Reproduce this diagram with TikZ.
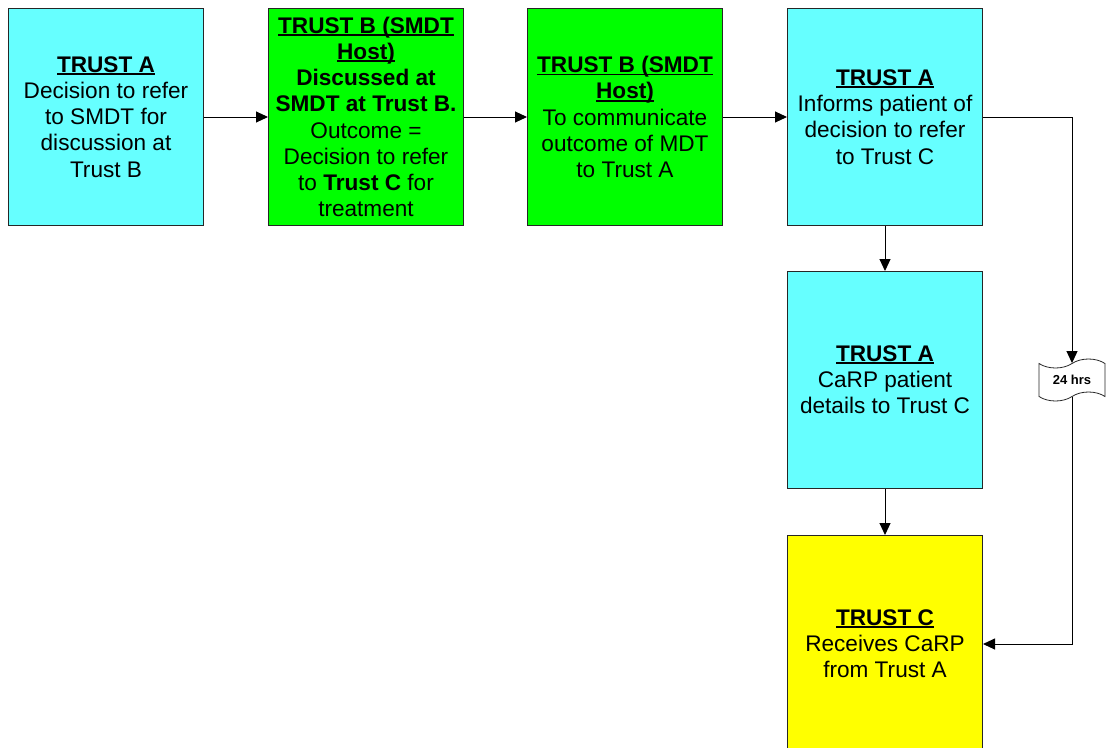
\documentclass[tikz,border=0pt]{standalone}
\usepackage{fontspec}
\setmainfont{Liberation Sans}
\usetikzlibrary{arrows.meta,shapes.symbols}
\definecolor{trustA}{HTML}{66FFFF}
\definecolor{trustB}{HTML}{00FF00}
\definecolor{trustC}{HTML}{FFFF00}
\definecolor{edge}{HTML}{262626}
% bold heading with a heavy rule just under the baseline
\newlength{\hdwidth}
\newcommand{\hd}[1]{\settowidth{\hdwidth}{\textbf{#1}}\textbf{#1}\llap{\rule[-2.8pt]{\hdwidth}{1.9pt}}}
\begin{document}
\begin{tikzpicture}[x=1pt,y=-1pt,
  box/.style={draw=edge, line width=1pt, minimum width=195pt, minimum height=217pt,
    inner sep=0pt, align=center, anchor=north west,
    font=\fontsize{22.6}{26.2}\selectfont},
  flow/.style={draw=black, line width=1pt, -{Triangle[length=12pt,width=11pt]}},
  delay/.style={tape, draw=edge, fill=white, line width=0.8pt, minimum width=66pt,
    minimum height=42pt, tape bend height=9pt, inner sep=0pt,
    font=\bfseries\fontsize{13}{15}\selectfont}
  ]
  \useasboundingbox (0,0) rectangle (1107,747);
  \clip (0,0) rectangle (1107,747);

  \node[box, fill=trustA] (b1) at (8,8)
    {\hd{TRUST A}\\Decision to refer\\to SMDT for\\discussion at\\Trust B};
  \node[box, fill=trustB] (b2) at (268,8)
    {\hd{TRUST B (SMDT}\\\hd{Host)}\\\textbf{Discussed at}\\\textbf{SMDT at Trust B.}\\Outcome =\\Decision to refer\\to \textbf{Trust C} for\\treatment};
  \node[box, fill=trustB] (b3) at (527,8)
    {\hd{TRUST B (SMDT}\\\hd{Host)}\\To communicate\\outcome of MDT\\to Trust A};
  \node[box, fill=trustA] (b4) at (787,8)
    {\hd{TRUST A}\\Informs patient of\\decision to refer\\to Trust C};
  \node[box, fill=trustA] (b5) at (787,271)
    {\hd{TRUST A}\\CaRP patient\\details to Trust C};
  \node[box, fill=trustC] (b6) at (787,535)
    {\hd{TRUST C}\\Receives CaRP\\from Trust A};

  \node[delay] (hrs) at (1072,380) {24 hrs};

  \draw[flow] (b1.east) -- (b2.west);
  \draw[flow] (b2.east) -- (b3.west);
  \draw[flow] (b3.east) -- (b4.west);
  \draw[flow] (b4.south) -- (b5.north);
  \draw[flow] (b5.south) -- (b6.north);
  \draw[flow] (b4.east) -| (hrs.north);
  \draw[flow] (hrs.south) |- (b6.east);
\end{tikzpicture}
\end{document}
